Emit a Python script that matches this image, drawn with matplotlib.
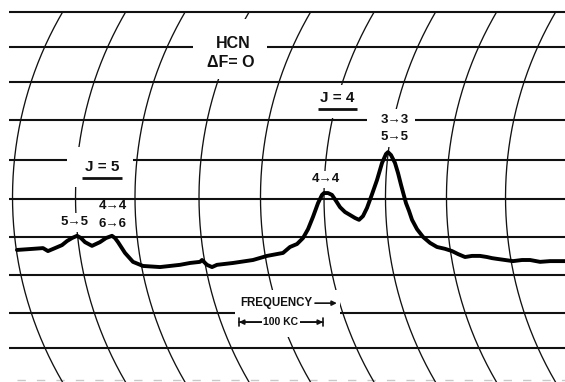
import matplotlib
matplotlib.use("Agg")
import matplotlib.pyplot as plt
from matplotlib.patches import Rectangle
import numpy as np

# ---- data: recorder trace (frequency in kc, signal in chart divisions) ----
freq_kc = [20.2, 39.3, 51.2, 57.1, 65.5, 73.8, 79.8, 85.7, 91.7, 96.4,
           101.2, 109.5, 119.0, 126.2, 133.3, 136.9, 140.5, 148.8, 158.3, 170.2,
           190.5, 214.3, 226.2, 238.1, 240.5, 246.4, 252.4, 258.3, 277.4, 301.2,
           317.9, 336.9, 345.2, 353.6, 360.7, 366.7, 372.6, 378.6, 383.3, 385.7,
           390.5, 395.2, 400.0, 404.8, 410.7, 416.7, 422.6, 427.4, 432.1, 436.9,
           442.9, 448.8, 454.8, 459.5, 461.9, 465.5, 470.2, 473.8, 477.4, 481.0,
           483.3, 486.9, 490.5, 496.4, 503.6, 511.9, 520.2, 529.8, 538.1, 545.2,
           553.6, 561.9, 571.4, 579.8, 585.7, 591.7, 601.2, 610.7, 621.4, 631.0,
           642.9, 654.8, 672.6]
signal_div = [3.55, 3.58, 3.60, 3.52, 3.60, 3.68, 3.79, 3.87, 3.93, 3.87,
              3.76, 3.66, 3.76, 3.87, 3.93, 3.87, 3.76, 3.47, 3.23, 3.12,
              3.09, 3.15, 3.20, 3.23, 3.28, 3.15, 3.09, 3.15, 3.20, 3.28,
              3.39, 3.47, 3.63, 3.71, 3.87, 4.11, 4.44, 4.81, 5.03, 5.08,
              5.08, 5.03, 4.87, 4.70, 4.57, 4.49, 4.41, 4.36, 4.46, 4.68,
              5.05, 5.43, 5.89, 6.13, 6.18, 6.10, 5.89, 5.62, 5.30, 5.00,
              4.81, 4.60, 4.36, 4.11, 3.90, 3.74, 3.63, 3.58, 3.52, 3.44,
              3.36, 3.39, 3.39, 3.36, 3.33, 3.31, 3.28, 3.25, 3.28, 3.28,
              3.23, 3.25, 3.25]

# chart paper grid
grid_levels = [9.95, 9.01, 8.06, 7.04, 5.97, 4.92, 3.90, 2.88, 1.85, 0.91]
arc_mid_kc = [14.9, 89.9, 160.7, 236.9, 310.1, 385.7, 458.9, 531.5, 601.8]

# annotations: (text, x, y)
transition_labels = [("3\u21923", 469.6, 7.04), ("5\u21925", 469.6, 6.60),
                     ("4\u21924", 387.5, 5.46),
                     ("5\u21925", 89.3, 4.30), ("4\u21924", 134.5, 4.74),
                     ("6\u21926", 133.9, 4.25)]
group_labels = [("J = 4", 401.8, 7.63), ("J = 5", 121.4, 5.78)]
title_lines = [("HCN", 277.4, 9.11), ("\u0394F= O", 275.0, 8.58)]
scale_kc = (284.5, 384.5)
scale_y = 1.61
freq_label = ("FREQUENCY", 285.7, 2.12)

XMAX, YMAX = 672.6, 10.27
ARC_RX, ARC_RY, ARC_YC = 436.9, 9.866, 4.97

FONT = ["Liberation Sans", "DejaVu Sans"]

fig = plt.figure(figsize=(5.65, 3.82), dpi=100)
ax = fig.add_axes([0, 0, 1, 1])
ax.set_xlim(0, XMAX)
ax.set_ylim(0, YMAX)
ax.axis("off")

ink = "#111111"
# horizontal chart lines
ax.hlines(grid_levels, 10.7, XMAX, colors=ink, lw=1.5, zorder=1)
ax.hlines([0.05], 20, XMAX, colors="#c8c8c8", lw=1.0, linestyles=(0, (6, 8)), zorder=1)
# curvilinear time arcs
t0 = np.arcsin((0.0 - ARC_YC) / ARC_RY)
t1 = np.arcsin((grid_levels[0] - ARC_YC) / ARC_RY)
theta = np.linspace(t0, t1, 200)
for xm in arc_mid_kc:
    ax.plot(xm + ARC_RX * (1 - np.cos(theta)), ARC_YC + ARC_RY * np.sin(theta),
            color=ink, lw=0.95, zorder=1)

# white gaps in the paper grid behind the lettering
masks = [(229.8, 317.9, 8.15, 9.76),
         (375.0, 428.6, 7.10, 7.98),
         (436.9, 494.0, 6.32, 7.34),
         (366.7, 408.3, 5.22, 5.67),
         (79.8, 158.3, 5.24, 6.32),
         (73.8, 107.1, 4.03, 4.54),
         (279.8, 404.8, 1.21, 2.47)]
for x0, x1, y0, y1 in masks:
    ax.add_patch(Rectangle((x0, y0), x1 - x0, y1 - y0, facecolor="white",
                           edgecolor="none", zorder=2))

# trace
ax.plot(freq_kc, signal_div, color="black", lw=2.8, solid_joinstyle="round",
        solid_capstyle="round", zorder=4)

# lettering
for txt, x, y in title_lines:
    ax.text(x, y, txt, ha="center", va="center", fontsize=11.5,
            family=FONT, weight="bold", color=ink, zorder=3)
for txt, x, y in group_labels:
    ax.text(x, y, txt, ha="center", va="center", fontsize=11,
            family=FONT, weight="bold", color=ink, zorder=3)
    ax.plot([x - 23.5, x + 23.5], [y - 0.29, y - 0.29], color=ink, lw=2.0,
            solid_capstyle="butt", zorder=3)
for txt, x, y in transition_labels:
    ax.text(x, y, txt, ha="center", va="center", fontsize=9.5,
            family=FONT, weight="bold", color=ink, zorder=3)

ax.text(freq_label[1], freq_label[2], freq_label[0], ha="left", va="center",
        fontsize=8.3, family=FONT, weight="bold", color=ink, zorder=3)
ax.annotate("", xy=(401.0, freq_label[2]), xytext=(375.0, freq_label[2]),
            arrowprops=dict(arrowstyle="-|>", color=ink, lw=1.2,
                            mutation_scale=7, shrinkA=0, shrinkB=0), zorder=3)

ax.annotate("", xy=(scale_kc[0], scale_y), xytext=(scale_kc[1], scale_y),
            arrowprops=dict(arrowstyle="|-|", color=ink, lw=1.2,
                            mutation_scale=3, shrinkA=0, shrinkB=0), zorder=3)
ax.annotate("", xy=(scale_kc[0], scale_y), xytext=(scale_kc[1], scale_y),
            arrowprops=dict(arrowstyle="<|-|>", color=ink, lw=1.2,
                            mutation_scale=7, shrinkA=0, shrinkB=0), zorder=3)
ax.text(sum(scale_kc) / 2, scale_y, "100 KC", ha="center", va="center",
        fontsize=7.5, family=FONT, weight="bold", color=ink, zorder=5,
        bbox=dict(facecolor="white", edgecolor="none", pad=1.2))

fig.savefig("out.png", dpi=100, facecolor="white")
